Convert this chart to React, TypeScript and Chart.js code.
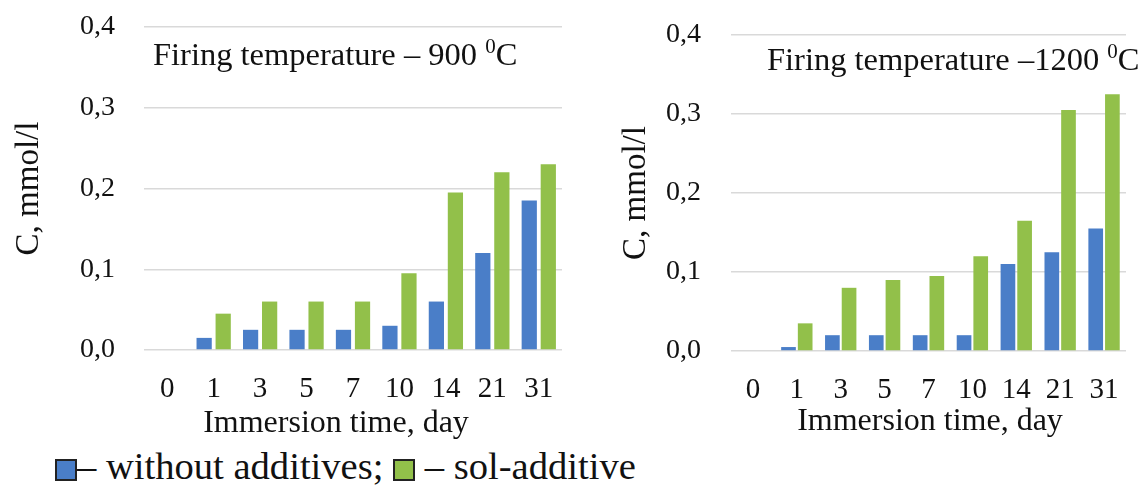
import React, { useEffect, useRef } from "react";
import { Chart, registerables } from "chart.js";

Chart.register(...registerables);

const categories = ["0", "1", "3", "5", "7", "10", "14", "21", "31"];
const left_without = [0, 0.015, 0.025, 0.025, 0.025, 0.03, 0.06, 0.12, 0.185];
const left_sol = [0, 0.045, 0.06, 0.06, 0.06, 0.095, 0.195, 0.22, 0.23];
const right_without = [0, 0.005, 0.02, 0.02, 0.02, 0.02, 0.11, 0.125, 0.155];
const right_sol = [0, 0.035, 0.08, 0.09, 0.095, 0.12, 0.165, 0.305, 0.325];
const yMin = 0;
const yMax = 0.4;
const yStep = 0.1;
const seriesNames = ["without additives", "sol-additive"];
const leftTitle = ["Firing temperature – 900 ", "0", "C"];
const rightTitle = ["Firing temperature –1200 ", "0", "C"];
const xTitle = "Immersion time, day";
const yTitle = "C, mmol/l";

const BLUE = "#4a7ec8";
const GREEN = "#92c04a";
const FONT = "'Liberation Serif', 'Times New Roman', serif";

type Cfg = {
  without: number[];
  sol: number[];
  title: string[];
  yWidth: number;
  xHeight: number;
  padTop: number;
  padRight: number;
  yTitlePad: number;
  tickPad: number;
  catPct: number;
  barPct: number;
  titleX: number;
  titleY: number;
  xTitleX: number;
  xTitleY: number;
};

function textPlugin(cfg: Cfg) {
  return {
    id: "extraText",
    afterDraw(chart: any) {
      const ctx = chart.ctx;
      const parts = cfg.title;
      ctx.save();
      ctx.fillStyle = "#111";
      ctx.textBaseline = "alphabetic";
      ctx.textAlign = "left";
      ctx.font = `32.5px ${FONT}`;
      ctx.fillText(parts[0], cfg.titleX, cfg.titleY);
      let cx = cfg.titleX + ctx.measureText(parts[0]).width;
      ctx.font = `21px ${FONT}`;
      ctx.fillText(parts[1], cx, cfg.titleY - 12);
      cx += ctx.measureText(parts[1]).width;
      ctx.font = `32.5px ${FONT}`;
      ctx.fillText(parts[2], cx, cfg.titleY);
      ctx.font = `32px ${FONT}`;
      ctx.textAlign = "center";
      ctx.fillText(xTitle, cfg.xTitleX, cfg.xTitleY);
      ctx.restore();
    },
  };
}

function BarPanel({ cfg, style }: { cfg: Cfg; style: React.CSSProperties }) {
  const ref = useRef<HTMLCanvasElement | null>(null);
  useEffect(() => {
    if (!ref.current) return;
    const chart = new Chart(ref.current, {
      type: "bar",
      data: {
        labels: categories,
        datasets: [
          { label: seriesNames[0], data: cfg.without, backgroundColor: BLUE },
          { label: seriesNames[1], data: cfg.sol, backgroundColor: GREEN },
        ],
      },
      options: {
        animation: false,
        responsive: false,
        maintainAspectRatio: false,
        layout: { padding: { top: cfg.padTop, right: cfg.padRight, left: 0, bottom: 0 } },
        datasets: { bar: { categoryPercentage: cfg.catPct, barPercentage: cfg.barPct } },
        plugins: { legend: { display: false }, tooltip: { enabled: false } },
        scales: {
          x: {
            grid: { display: false, drawTicks: false },
            border: { display: false },
            ticks: { color: "#111", font: { family: FONT, size: 29 }, padding: 22, maxRotation: 0, autoSkip: false },
            title: { display: false, text: xTitle },
            afterFit: (s: any) => {
              s.height = cfg.xHeight;
              s.paddingLeft = 0;
              s.paddingRight = 0;
            },
          },
          y: {
            min: yMin,
            max: yMax,
            grid: { color: "#d9d9d9", lineWidth: 1.5, drawTicks: false },
            border: { display: false },
            ticks: {
              stepSize: yStep,
              color: "#111",
              padding: cfg.tickPad,
              font: { family: FONT, size: 28 },
              callback: (v: any) => Number(v).toFixed(1).replace(".", ","),
            },
            title: { display: true, text: yTitle, color: "#111", font: { family: FONT, size: 33 }, padding: { top: cfg.yTitlePad, bottom: 0 } },
            afterFit: (s: any) => {
              s.width = cfg.yWidth;
              s.paddingTop = 0;
              s.paddingBottom = 0;
            },
          },
        },
      },
      plugins: [textPlugin(cfg)],
    });
    return () => chart.destroy();
  }, []);
  return <canvas ref={ref} width={style.width as number} height={style.height as number} style={style} />;
}

const leftCfg: Cfg = {
  without: left_without,
  sol: left_sol,
  title: leftTitle,
  yWidth: 144,
  xHeight: 90,
  padTop: 27,
  padRight: 18,
  yTitlePad: 10,
  tickPad: 29,
  catPct: 0.82,
  barPct: 0.8,
  titleX: 153,
  titleY: 65,
  xTitleX: 336,
  xTitleY: 432,
};

const rightCfg: Cfg = {
  without: right_without,
  sol: right_sol,
  title: rightTitle,
  yWidth: 151,
  xHeight: 89,
  padTop: 35,
  padRight: 15,
  yTitlePad: 37,
  tickPad: 30,
  catPct: 0.76,
  barPct: 0.88,
  titleX: 187,
  titleY: 70,
  xTitleX: 350,
  xTitleY: 430,
};

function Swatch({ color }: { color: string }) {
  return (
    <span
      style={{
        display: "inline-block",
        width: 22,
        height: 22,
        background: color,
        border: "2px solid #222",
        boxSizing: "border-box",
        verticalAlign: "baseline",
        marginBottom: -2,
      }}
    />
  );
}

export default function App() {
  return (
    <div style={{ position: "fixed", left: 0, top: 0, width: 1141, height: 487, background: "#fff", overflow: "hidden" }}>
      <BarPanel cfg={leftCfg} style={{ position: "absolute", left: 0, top: 0, width: 580, height: 440 }} />
      <BarPanel cfg={rightCfg} style={{ position: "absolute", left: 580, top: 0, width: 561, height: 440 }} />
      <div
        style={{
          position: "absolute",
          left: 55,
          top: 444,
          fontFamily: FONT,
          fontSize: 38.6,
          lineHeight: "44px",
          color: "#111",
          whiteSpace: "nowrap",
        }}
      >
        <Swatch color={BLUE} />– without additives; <Swatch color={GREEN} /> – sol-additive
      </div>
    </div>
  );
}
